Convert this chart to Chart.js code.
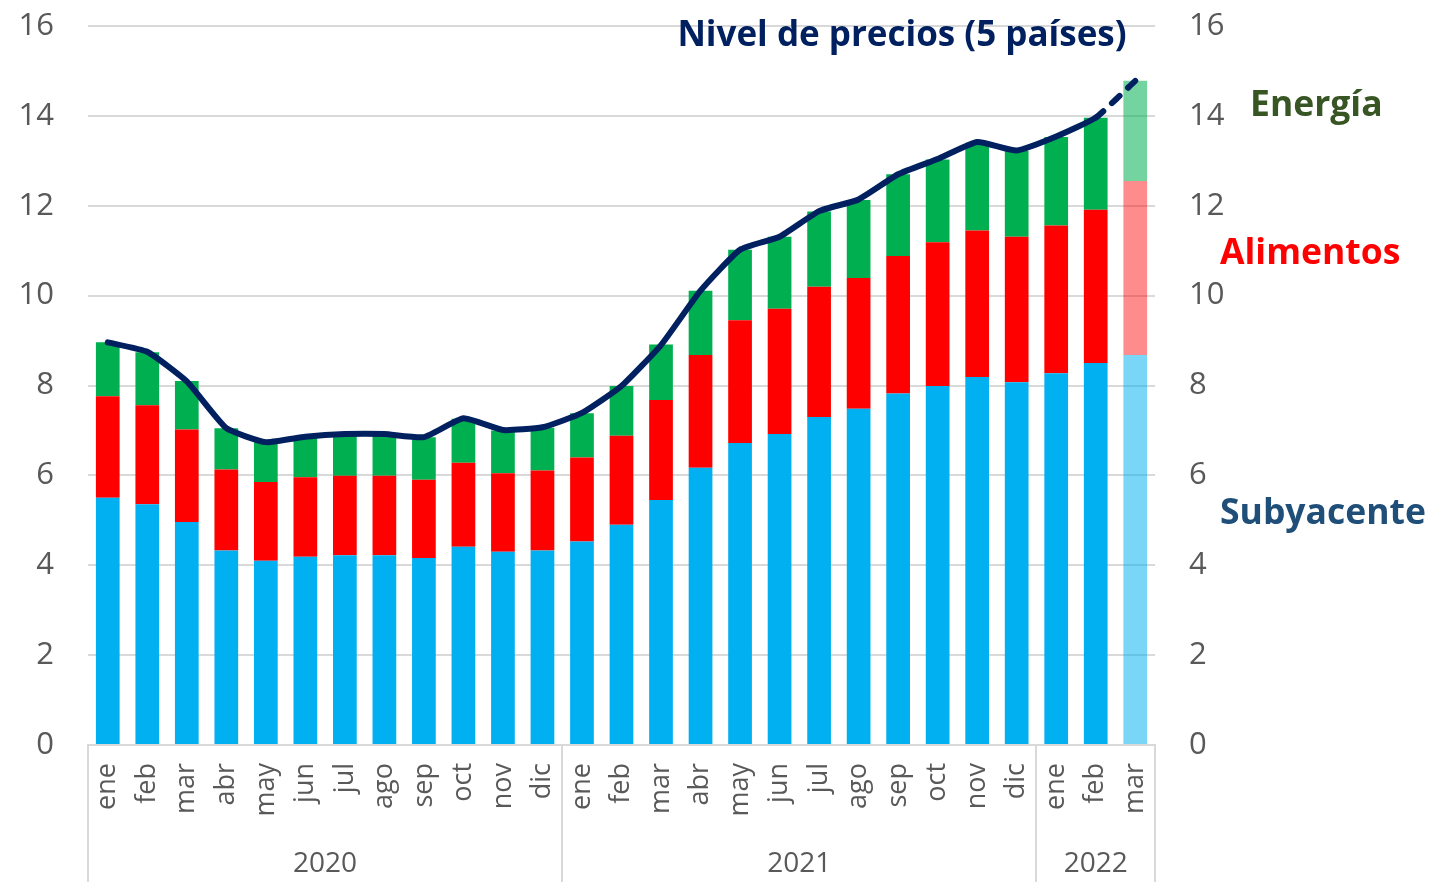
<!DOCTYPE html>
<html>
<head>
<meta charset="utf-8">
<script src="https://cdn.jsdelivr.net/npm/chart.js@4/dist/chart.umd.min.js"></script>
<style>
  html, body { margin: 0; padding: 0; background: #ffffff; }
  #wrap { width: 1430px; height: 882px; position: relative; }
</style>
</head>
<body>
<div id="wrap"><canvas id="c" width="1430" height="882"></canvas></div>
<script>
// ---- data ----
const months = ['ene','feb','mar','abr','may','jun','jul','ago','sep','oct','nov','dic',
                'ene','feb','mar','abr','may','jun','jul','ago','sep','oct','nov','dic',
                'ene','feb','mar'];
const years = ['2020','2021','2022'];
const yearCounts = [12, 12, 3];
const subyacente = [5.50,5.36,4.96,4.33,4.10,4.19,4.22,4.22,4.16,4.41,4.30,4.33,
                    4.53,4.90,5.45,6.17,6.72,6.92,7.30,7.48,7.82,7.99,8.19,8.07,
                    8.27,8.50,8.68];
const alimentos = [2.26,2.20,2.06,1.80,1.75,1.77,1.77,1.77,1.74,1.87,1.75,1.78,
                   1.87,1.98,2.23,2.51,2.73,2.79,2.90,2.91,3.06,3.20,3.26,3.24,
                   3.29,3.41,3.87];
const energia = [1.20,1.18,1.08,0.92,0.90,0.90,0.93,0.93,0.95,0.98,0.95,0.95,
                 0.98,1.11,1.23,1.43,1.57,1.60,1.67,1.74,1.82,1.84,1.95,1.91,
                 1.97,2.05,2.23];
const nivel = [8.96,8.75,8.09,7.05,6.74,6.86,6.92,6.92,6.85,7.27,7.01,7.07,
               7.39,7.99,8.90,10.11,11.02,11.31,11.88,12.14,12.70,13.04,13.42,13.23,
               13.54,13.96,14.78];
const yTicks = [0,2,4,6,8,10,12,14,16];
const lastIdx = months.length - 1; // projected month (lighter)

const C = {
  sub: '#00B0F0', subL: 'rgba(0,176,240,0.52)',
  ali: '#FF0000', aliL: 'rgba(255,0,0,0.45)',
  ene: '#00B050', eneL: 'rgba(0,176,80,0.55)',
  line: '#002060', grid: '#d9d9d9', text: '#595959'
};
const FONT = '"Open Sans", "DejaVu Sans", sans-serif';

function barColor(normal, light) {
  return ctx => ctx.dataIndex === lastIdx ? light : normal;
}
function fitY(width) {
  return s => { s.width = width; s.paddingTop = 0; s.paddingBottom = 0; };
}

const extras = {
  id: 'extras',
  afterDraw(chart) {
    const { ctx, chartArea, scales } = chart;
    const x = scales.x;
    const step = x.getPixelForValue(1) - x.getPixelForValue(0);
    ctx.save();
    // group separators
    ctx.strokeStyle = C.grid;
    ctx.lineWidth = 2;
    let start = 0;
    const bounds = [0];
    yearCounts.forEach(n => { start += n; bounds.push(start); });
    bounds.forEach(b => {
      const px = Math.round(x.getPixelForValue(0) - step / 2 + b * step);
      ctx.beginPath();
      ctx.moveTo(px, chartArea.bottom);
      ctx.lineTo(px, 882);
      ctx.stroke();
    });
    // year labels
    ctx.fillStyle = C.text;
    ctx.font = '28px ' + FONT;
    ctx.textAlign = 'center';
    ctx.textBaseline = 'middle';
    years.forEach((yr, i) => {
      const a = x.getPixelForValue(0) - step / 2 + bounds[i] * step;
      const b = x.getPixelForValue(0) - step / 2 + bounds[i + 1] * step;
      ctx.fillText(yr, (a + b) / 2, 864);
    });
    // title
    ctx.font = 'bold 35px ' + FONT;
    ctx.fillStyle = C.line;
    ctx.textAlign = 'center';
    ctx.fillText('Nivel de precios (5 países)', 902, 36);
    // series labels
    ctx.textAlign = 'left';
    ctx.font = 'bold 35.5px ' + FONT;
    ctx.fillStyle = '#375623';
    ctx.fillText('Energía', 1250, 106);
    ctx.fillStyle = '#FF0000';
    ctx.fillText('Alimentos', 1220, 254);
    ctx.fillStyle = '#1F4E79';
    ctx.fillText('Subyacente', 1220, 514);
    ctx.restore();
  }
};

new Chart(document.getElementById('c'), {
  data: {
    labels: months,
    datasets: [
      { type: 'line', label: 'Nivel de precios', data: nivel, order: 0,
        borderColor: C.line, borderWidth: 6, pointRadius: 0, tension: 0.15,
        borderCapStyle: 'round', borderJoinStyle: 'round', fill: false,
        segment: { borderDash: ctx => ctx.p1DataIndex === lastIdx ? [10, 12] : undefined } },
      { type: 'bar', label: 'Subyacente', data: subyacente, order: 1, stack: 's',
        backgroundColor: barColor(C.sub, C.subL) },
      { type: 'bar', label: 'Alimentos', data: alimentos, order: 1, stack: 's',
        backgroundColor: barColor(C.ali, C.aliL) },
      { type: 'bar', label: 'Energía', data: energia, order: 1, stack: 's',
        backgroundColor: barColor(C.ene, C.eneL) }
    ]
  },
  options: {
    responsive: false,
    animation: false,
    devicePixelRatio: 1,
    layout: { padding: { top: 26, left: 0, right: 0, bottom: 0 } },
    datasets: { bar: { categoryPercentage: 1, barPercentage: 0.6 } },
    plugins: { legend: { display: false }, tooltip: { enabled: false }, title: { display: false } },
    scales: {
      x: {
        stacked: true,
        grid: { display: false, drawTicks: false },
        border: { display: true, color: C.grid, width: 2 },
        ticks: { autoSkip: false, maxRotation: 90, minRotation: 90, padding: 18,
                 color: C.text, font: { family: FONT, size: 27 } },
        afterFit: s => { s.height = 137; s.paddingLeft = 0; s.paddingRight = 0; }
      },
      y: {
        stacked: true, position: 'left', min: 0, max: 16,
        afterBuildTicks: s => { s.ticks = yTicks.map(v => ({ value: v })); },
        grid: { color: C.grid, lineWidth: 2, drawTicks: false },
        border: { display: false },
        ticks: { padding: 34, color: C.text, font: { family: FONT, size: 31 } },
        afterFit: fitY(88)
      },
      y1: {
        position: 'right', min: 0, max: 16,
        afterBuildTicks: s => { s.ticks = yTicks.map(v => ({ value: v })); },
        grid: { display: false, drawTicks: false },
        border: { display: false },
        ticks: { padding: 34, color: C.text, font: { family: FONT, size: 31 } },
        afterFit: fitY(275)
      }
    }
  },
  plugins: [extras]
});
</script>
</body>
</html>
